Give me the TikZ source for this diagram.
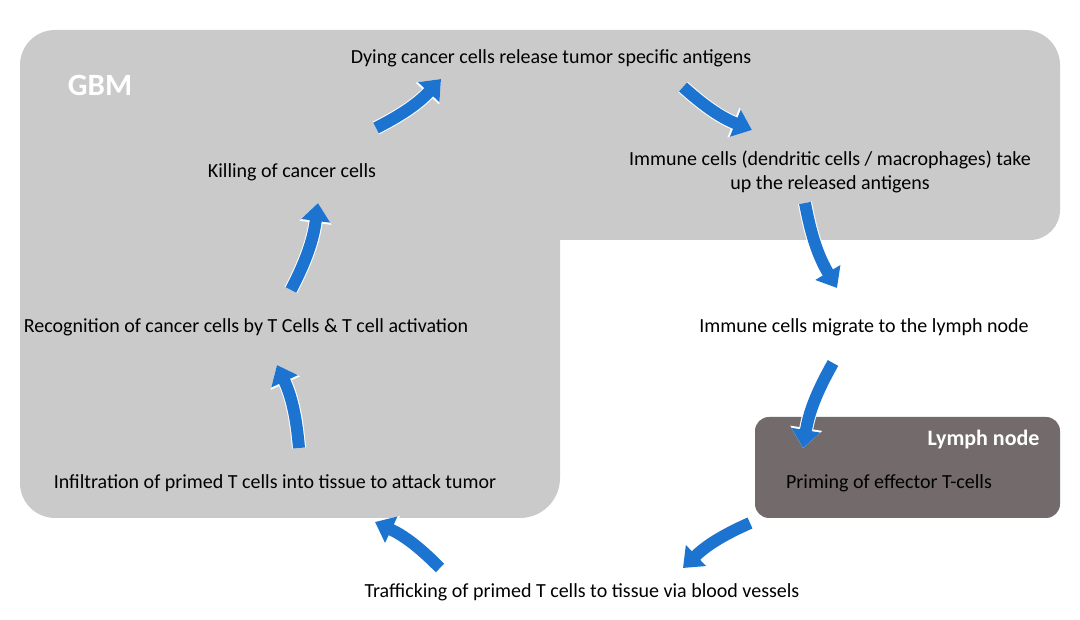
\documentclass[tikz,border=0pt]{standalone}
\usepackage{fontspec}
\setmainfont{Carlito}
\usetikzlibrary{arrows.meta}

\definecolor{gbmFill}{RGB}{202,202,202}
\definecolor{lymphFill}{RGB}{115,107,107}
\definecolor{cycBlue}{RGB}{28,116,208}

\tikzset{
  steptext/.style={font=\fontsize{20}{24}\selectfont, text=black, inner sep=0pt, align=center},
  cycarrow/.style={line width=12pt, draw=cycBlue,
    -{Triangle[length=18pt,width=28pt]},
    preaction={draw=white, line width=14pt, -{Triangle[length=20pt,width=31pt]}}},
}

\begin{document}
\begin{tikzpicture}[x=1pt, y=1pt]
  \useasboundingbox (0,0) rectangle (1080,620);
  % tumour area
  \fill[gbmFill] (20,300) [rounded corners=35pt] -- (20,590) -- (1060,590)
    [rounded corners=30pt] -- (1060,380) [sharp corners] -- (560,380)
    [rounded corners=40pt] -- (560,102) [rounded corners=35pt] -- (20,102) -- cycle;
  \fill[lymphFill, rounded corners=14pt] (755,102) rectangle (1060,203);
  \node[font=\fontsize{31}{36}\selectfont\bfseries, text=white] (gbm) at (100,535) {GBM};
  \node[font=\fontsize{22}{26}\selectfont\bfseries, text=white, anchor=east] (lymph) at (1043,180) {Lymph node};

  % steps
  \node[steptext] (dying) at (551,562) {Dying cancer cells release tumor specific antigens};
  \node[steptext] (uptake) at (830,448) {Immune cells (dendritic cells / macrophages) take\\up the released antigens};
  \node[steptext] (migrate) at (864,293) {Immune cells migrate to the lymph node};
  \node[steptext] (priming) at (889,137) {Priming of effector T-cells};
  \node[steptext] (traffic) at (582,28) {Trafficking of primed T cells to tissue via blood vessels};
  \node[steptext] (infil) at (275,137) {Infiltration of primed T cells into tissue to attack tumor};
  \node[steptext] (recog) at (246,293) {Recognition of cancer cells by T Cells \& T cell activation};
  \node[steptext] (kill) at (292,448) {Killing of cancer cells};

  % arrow ends
  \coordinate (a1) at (376,492); \coordinate (b1) at (441,541);
  \coordinate (a2) at (683,533); \coordinate (b2) at (752,490);
  \coordinate (a3) at (805,417); \coordinate (b3) at (837,332);
  \coordinate (a4) at (833,257); \coordinate (b4) at (803,172);
  \coordinate (a5) at (750,97);  \coordinate (b5) at (683,52);
  \coordinate (a6) at (440,52);  \coordinate (b6) at (375,98);
  \coordinate (a7) at (299,172); \coordinate (b7) at (277,255);
  \coordinate (a8) at (291,330); \coordinate (b8) at (318,417);

  \foreach \i in {1,...,8}
    \draw[cycarrow] (a\i) to[bend right=10] (b\i);
\end{tikzpicture}
\end{document}
